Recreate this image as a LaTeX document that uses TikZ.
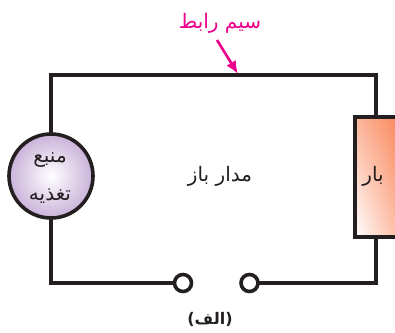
\documentclass[tikz,border=0pt]{standalone}
\usepackage{fontspec}
\TeXXeTstate=1
\newfontfamily\arabicfont[Script=Arabic]{DejaVu Sans}
\usetikzlibrary{arrows.meta,shadings}
\definecolor{wirek}{HTML}{231F20}
\definecolor{pinkk}{HTML}{EC008C}
\definecolor{srcedge}{HTML}{C9B2D9}
\definecolor{loadtop}{HTML}{F98558}
\definecolor{loadmid}{HTML}{FCB89E}
\tikzset{
  wire/.style={draw=wirek,line width=3.6pt},
  lbl/.style={inner sep=0pt,font=\arabicfont\fontsize{20}{24}\selectfont,text=wirek,align=center},
  terminal/.style={circle,draw=wirek,line width=3.6pt,fill=white,minimum size=17pt,inner sep=0pt,outer sep=0pt},
  callout/.style={draw=pinkk,line width=2.6pt,-{Latex[length=13pt,width=11pt]}}
}
\begin{document}
\begin{tikzpicture}[x=1pt,y=-1pt]
\useasboundingbox (0,0) rectangle (395,332);
\clip (0,0) rectangle (395,332);
\coordinate (tl) at (51,75);
\coordinate (tr) at (376,75);
\coordinate (bl) at (51,283);
\coordinate (br) at (376,283);
\coordinate (ah) at (238,74);
\coordinate (at) at (217,40);
\node[circle,draw=wirek,line width=3.6pt,minimum size=84pt,inner sep=0pt,outer sep=0pt,inner color=white,outer color=srcedge] (src) at (51,176) {};
\node[draw=wirek,line width=3.6pt,minimum width=46pt,minimum height=120pt,inner sep=0pt,outer sep=0pt,anchor=north west,lower left=white,upper right=loadtop,upper left=loadmid,lower right=loadmid] (load) at (355,117) {};
\node[terminal] (t1) at (183,283) {};
\node[terminal] (t2) at (249.5,283) {};
\draw[wire] (src.north) -- (tl) -- (tr) -- (load.north -| tr);
\draw[wire] (load.south -| tr) -- (br) -- (t2.east);
\draw[wire] (src.south) -- (bl) -- (t1.west);
\draw[callout] (at) -- (ah);
\node[lbl] (a) at (50,160) {\beginR منبع\endR};
\node[lbl] (b) at (50,196) {\beginR تغذیه\endR};
\node[lbl] (c) at (373,176) {\beginR بار\endR};
\node[lbl] (d) at (220,176) {\beginR مدار باز\endR};
\node[lbl,text=pinkk] (e) at (220,23) {\beginR سیم رابط\endR};
\node[lbl,font=\arabicfont\bfseries\fontsize{16}{19}\selectfont] (f) at (210,319) {\beginR(الف)\endR};
\end{tikzpicture}
\end{document}
